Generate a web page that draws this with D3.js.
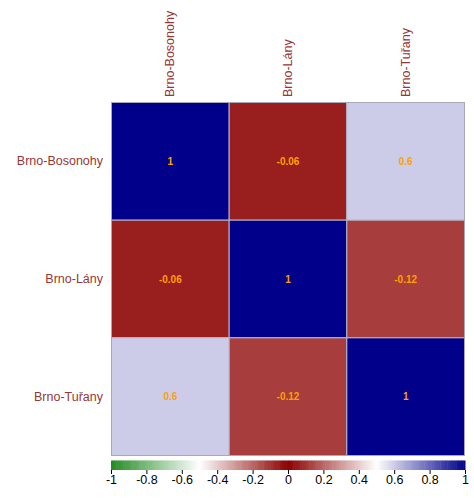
<!DOCTYPE html>
<html>
<head>
<meta charset="utf-8">
<script src="https://cdn.jsdelivr.net/npm/d3@7"></script>
<style>
body { margin: 0; background: #fff; }
svg { display: block; font-family: "Liberation Sans", Arial, sans-serif; }
</style>
</head>
<body>
<svg id="chart" width="474" height="498"></svg>
<script>
const categories = ["Brno-Bosonohy", "Brno-Lány", "Brno-Tuřany"];
const corrValues = [
  [1, -0.06, 0.6],
  [-0.06, 1, -0.12],
  [0.6, -0.12, 1]
];
const legendTicks = [-1, -0.8, -0.6, -0.4, -0.2, 0, 0.2, 0.4, 0.6, 0.8, 1];
const paletteDomain = [-1, -0.5, 0, 0.5, 1];
const paletteColors = ["#228B22", "#FFFFFF", "#8B0000", "#FFFFFF", "#00008B"];

const svg = d3.select("#chart");
const gridLeft = 111.5, gridTop = 102.5, gridSize = 353;
const x = d3.scaleBand().domain(categories).range([gridLeft, gridLeft + gridSize]);
const y = d3.scaleBand().domain(categories).range([gridTop, gridTop + gridSize]);
const color = d3.scaleLinear().domain(paletteDomain).range(paletteColors).interpolate(d3.interpolateRgb);

const cells = [];
corrValues.forEach((row, i) => row.forEach((v, j) => cells.push({r: categories[i], c: categories[j], v})));

svg.append("g").selectAll("rect").data(cells).join("rect")
  .attr("x", d => x(d.c)).attr("y", d => y(d.r))
  .attr("width", x.bandwidth()).attr("height", y.bandwidth())
  .attr("fill", d => color(d.v))
  .attr("stroke", "#B8B8CC").attr("stroke-width", 1);

svg.append("rect").attr("x", gridLeft).attr("y", gridTop).attr("width", gridSize).attr("height", gridSize)
  .attr("fill", "none").attr("stroke", "#A8A8B8");

svg.append("g").selectAll("text").data(cells).join("text")
  .attr("x", d => x(d.c) + x.bandwidth() / 2)
  .attr("y", d => y(d.r) + y.bandwidth() / 2)
  .attr("text-anchor", "middle").attr("dominant-baseline", "central")
  .attr("font-size", 10).attr("font-weight", "bold").attr("fill", "#FFA000")
  .text(d => d.v);

const labCol = "#953735";
svg.append("g").selectAll("text").data(categories).join("text")
  .attr("transform", d => `translate(${x(d) + x.bandwidth() / 2 + 4},97) rotate(-90)`)
  .attr("font-size", 12.5).attr("fill", labCol).text(d => d);

svg.append("g").selectAll("text").data(categories).join("text")
  .attr("x", 103).attr("y", d => y(d) + y.bandwidth() / 2)
  .attr("text-anchor", "end").attr("dominant-baseline", "central")
  .attr("font-size", 12.5).attr("fill", labCol).text(d => d);

// colour legend
const lx = d3.scaleLinear().domain([-1, 1]).range([111, 465]);
const barTop = 460.5, barH = 9.5;
const steps = d3.range(-1, 1, 0.01);
svg.append("g").selectAll("rect").data(steps).join("rect")
  .attr("x", d => lx(d)).attr("y", barTop)
  .attr("width", lx(-1 + 0.01) - lx(-1) + 0.5).attr("height", barH)
  .attr("fill", d => color(d + 0.005));

const axis = d3.axisBottom(lx).tickValues(legendTicks).tickSize(4).tickFormat(d => String(d));
const ag = svg.append("g").attr("transform", `translate(0,${barTop + barH})`).call(axis);
ag.select(".domain").remove();
ag.selectAll(".tick line").attr("stroke", "#000");
ag.selectAll(".tick text").attr("font-size", 12.5).attr("fill", "#000").attr("dy", "0.75em").attr("y", 5)
  .attr("font-family", "\"Liberation Sans\", Arial, sans-serif");
</script>
</body>
</html>
